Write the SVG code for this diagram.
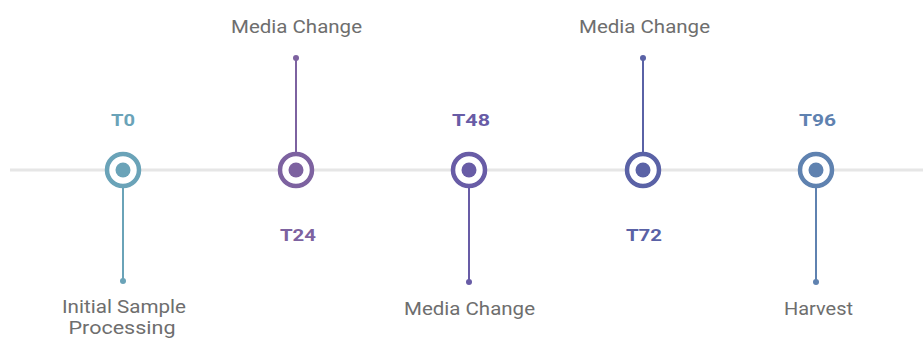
<svg xmlns="http://www.w3.org/2000/svg" width="923" height="338" viewBox="0 0 923 338">
  <style>
    .ring { fill: #ffffff; stroke-width: 4.5; }
    .stem { stroke-width: 2; fill: none; }
    .tick { font-family: Roboto, "Liberation Sans", sans-serif; font-size: 16px; font-weight: bold; text-anchor: middle; }
    .desc { font-family: Roboto, "Liberation Sans", sans-serif; font-size: 19px; fill: #6e6e6e; text-anchor: middle; }
    .desc2 { font-size: 17.5px; }
  </style>
  <rect width="923" height="338" fill="#ffffff"/>
  <g id="connectors">
    <line x1="10" y1="170" x2="923" y2="170" stroke="#e6e6e6" stroke-width="3"/>
    <line class="stem" x1="123" y1="186" x2="123" y2="281" stroke="#6aa3b8"/>
    <line class="stem" x1="296" y1="154" x2="296" y2="58" stroke="#7d62a0"/>
    <line class="stem" x1="469" y1="186" x2="469" y2="282" stroke="#685ca6"/>
    <line class="stem" x1="643" y1="154" x2="643" y2="58" stroke="#5a62a6"/>
    <line class="stem" x1="816" y1="186" x2="816" y2="282" stroke="#5f82b0"/>
    <circle cx="123" cy="281" r="3" fill="#6aa3b8"/>
    <circle cx="296" cy="58" r="3" fill="#7d62a0"/>
    <circle cx="469" cy="282" r="3" fill="#685ca6"/>
    <circle cx="643" cy="58" r="3" fill="#5a62a6"/>
    <circle cx="816" cy="282" r="3" fill="#5f82b0"/>
  </g>
  <g id="t0">
    <text class="tick" x="123" y="126" fill="#6aa3b8" textLength="24" lengthAdjust="spacingAndGlyphs">T0</text>
    <circle class="ring" cx="123" cy="170" r="16" stroke="#6aa3b8"/>
    <circle cx="123" cy="170" r="7.5" fill="#6aa3b8"/>
    <text class="desc desc2" x="124" y="313" textLength="124" lengthAdjust="spacingAndGlyphs">Initial Sample</text>
    <text class="desc desc2" x="122" y="334" textLength="107" lengthAdjust="spacingAndGlyphs">Processing</text>
  </g>
  <g id="t24">
    <text class="desc" x="296.5" y="33" textLength="131" lengthAdjust="spacingAndGlyphs">Media Change</text>
    <circle class="ring" cx="296" cy="170" r="16" stroke="#7d62a0"/>
    <circle cx="296" cy="170" r="7.5" fill="#7d62a0"/>
    <text class="tick" x="298" y="241" fill="#7d62a0" textLength="36" lengthAdjust="spacingAndGlyphs">T24</text>
  </g>
  <g id="t48">
    <text class="tick" x="471" y="126" fill="#685ca6" textLength="38" lengthAdjust="spacingAndGlyphs">T48</text>
    <circle class="ring" cx="469" cy="170" r="16" stroke="#685ca6"/>
    <circle cx="469" cy="170" r="7.5" fill="#685ca6"/>
    <text class="desc" x="469.5" y="315" textLength="131" lengthAdjust="spacingAndGlyphs">Media Change</text>
  </g>
  <g id="t72">
    <text class="desc" x="644.5" y="33" textLength="131" lengthAdjust="spacingAndGlyphs">Media Change</text>
    <circle class="ring" cx="643" cy="170" r="16" stroke="#5a62a6"/>
    <circle cx="643" cy="170" r="7.5" fill="#5a62a6"/>
    <text class="tick" x="644" y="241" fill="#5a62a6" textLength="36" lengthAdjust="spacingAndGlyphs">T72</text>
  </g>
  <g id="t96">
    <text class="tick" x="817.5" y="126" fill="#5f82b0" textLength="37" lengthAdjust="spacingAndGlyphs">T96</text>
    <circle class="ring" cx="816" cy="170" r="16" stroke="#5f82b0"/>
    <circle cx="816" cy="170" r="7.5" fill="#5f82b0"/>
    <text class="desc" x="818.5" y="315" textLength="69" lengthAdjust="spacingAndGlyphs">Harvest</text>
  </g>
</svg>
